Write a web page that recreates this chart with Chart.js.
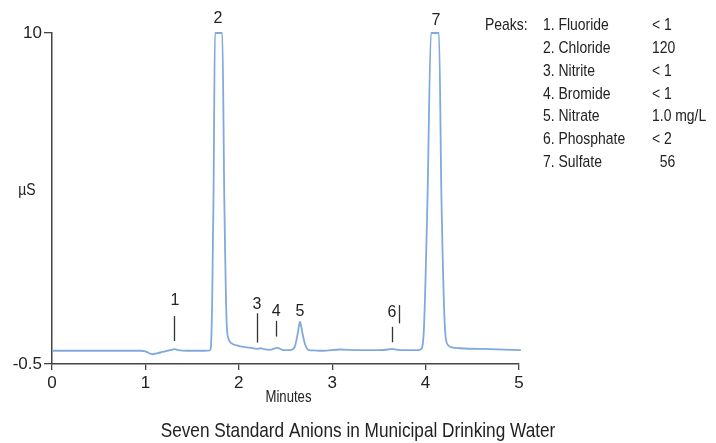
<!DOCTYPE html>
<html lang="en">
<head>
  <meta charset="UTF-8" />
  <title>Seven Standard Anions</title>
  <script src="https://cdn.jsdelivr.net/npm/chart.js"></script>
  <style>
    body {
      background: #fff;
      margin: 0;
    }
    canvas {
      display: block;
    }
  </style>
</head>
<body>
  <canvas id="chrom" width="716" height="443"></canvas>

  <script>
    // Chromatogram trace (minutes, µS)
    const times = [0, 0.5, 0.95, 1.0, 1.05, 1.08, 1.12, 1.2, 1.28, 1.31, 1.35, 1.45, 1.6, 1.69,
      1.70, 1.715, 1.73, 1.745, 1.823, 1.845, 1.87, 1.89, 1.92, 1.98, 2.05, 2.12, 2.19, 2.23,
      2.27, 2.33, 2.41, 2.48, 2.56, 2.6, 2.63, 2.655, 2.68, 2.71, 2.745, 2.8, 2.9, 3.08, 3.3,
      3.5, 3.6, 3.64, 3.7, 3.92, 3.95, 3.98, 4.02, 4.058, 4.143, 4.17, 4.21, 4.24, 4.28, 4.37,
      4.69, 5.02];
    const signal = [-0.08, -0.08, -0.08, -0.1, -0.17, -0.19, -0.16, -0.11, -0.05, -0.03, -0.06, -0.08, -0.08, -0.07,
      0.0, 1.5, 5, 10, 10, 4.7, 0.8, 0.3, 0.16, 0.09, 0.04, 0.02, -0.02, 0.0,
      -0.03, -0.05, 0.01, -0.06, -0.05, 0.05, 0.45, 0.84, 0.5, 0.12, -0.05, -0.07, -0.08, -0.04, -0.06,
      -0.06, -0.04, -0.02, -0.05, -0.06, -0.03, 0.5, 4.7, 10, 10, 4.7, 0.5, 0.1, 0.03, 0.0,
      -0.03, -0.06];

    const xTicks = [0, 1, 2, 3, 4, 5];
    const yTicks = [-0.5, 10];

    // peak numbers above the trace
    const peakNums = ['1', '2', '3', '4', '5', '6', '7'];
    const peakX = [1.317, 1.777, 2.195, 2.40, 2.655, 3.64, 4.11];
    const peakLabelY = [1.5, 10.45, 1.40, 1.16, 1.16, 1.13, 10.38];

    // little vertical marker lines
    const markX = [1.306, 2.19, 2.40, 3.64, 3.715];
    const markTop = [1.02, 1.11, 0.87, 0.68, 1.37];
    const markBottom = [0.23, 0.18, 0.37, 0.19, 0.79];

    // peaks table
    const peakNames = ['1. Fluoride', '2. Chloride', '3. Nitrite', '4. Bromide', '5. Nitrate', '6. Phosphate', '7. Sulfate'];
    const peakAmounts = ['< 1', '120', '< 1', '< 1', '1.0 mg/L', '< 2', '  56'];

    const chartTitle = 'Seven Standard Anions in Municipal Drinking Water';
    const xTitle = 'Minutes';
    const yTitle = 'µS';

    const regular = '"Liberation Sans", Arial, sans-serif';
    const ink = '#222';

    // no narrow face installed, so squeeze the regular one
    function narrowText(ctx, text, x, y, size, align) {
      ctx.save();
      ctx.font = size + 'px ' + regular;
      ctx.textAlign = align || 'left';
      ctx.translate(x, y);
      ctx.scale(0.82, 1);
      ctx.fillText(text, 0, 0);
      ctx.restore();
    }

    const textPlugin = {
      id: 'chromText',
      afterDraw(chart) {
        const { ctx, chartArea } = chart;
        const xs = chart.scales.x, ys = chart.scales.y;
        ctx.save();
        ctx.fillStyle = ink;
        ctx.strokeStyle = '#333';
        ctx.lineWidth = 1.3;
        ctx.textBaseline = 'middle';

        // peak numbers
        ctx.font = '16px ' + regular;
        ctx.textAlign = 'center';
        peakNums.forEach((n, i) => {
          ctx.fillText(n, xs.getPixelForValue(peakX[i]), ys.getPixelForValue(peakLabelY[i]));
        });
        markX.forEach((v, i) => {
          const px = Math.round(xs.getPixelForValue(v)) + 0.5;
          ctx.beginPath();
          ctx.moveTo(px, ys.getPixelForValue(markTop[i]));
          ctx.lineTo(px, ys.getPixelForValue(markBottom[i]));
          ctx.stroke();
        });

        // axis titles and chart title
        const midX = (chartArea.left + chartArea.right) / 2;
        narrowText(ctx, yTitle, chartArea.left - 25, (chartArea.top + chartArea.bottom) / 2 - 8, 17, 'center');
        narrowText(ctx, xTitle, midX + 3, chartArea.bottom + 34, 16, 'center');
        narrowText(ctx, chartTitle, chart.width / 2, chartArea.bottom + 67, 21, 'center');

        // peaks table
        const x0 = chartArea.right - 34;
        narrowText(ctx, 'Peaks:', x0, 25.5, 17);
        peakNames.forEach((name, i) => {
          const y = 25.5 + i * 22.8;
          narrowText(ctx, name, x0 + 58, y, 17);
          narrowText(ctx, peakAmounts[i], x0 + 167, y, 17);
        });
        ctx.restore();
      }
    };

    new Chart(document.getElementById('chrom'), {
      type: 'line',
      data: {
        datasets: [{
          data: times.map((t, i) => ({ x: t, y: signal[i] })),
          borderColor: '#82a9db',
          borderWidth: 1.8,
          pointRadius: 0,
          fill: false,
          cubicInterpolationMode: 'monotone',
          clip: { left: 0, right: 4, top: 4, bottom: 0 }
        }]
      },
      options: {
        responsive: false,
        animation: false,
        layout: {
          padding: { left: 0, right: 197, top: 33, bottom: 0 }
        },
        scales: {
          x: {
            type: 'linear',
            min: 0,
            max: 5,
            afterFit: (scale) => { scale.height = 79; },
            afterBuildTicks: (scale) => { scale.ticks = xTicks.map(v => ({ value: v })); },
            ticks: {
              color: ink,
              font: { family: regular, size: 17 },
              padding: 3
            },
            grid: {
              drawOnChartArea: false,
              color: '#444',
              tickLength: 6,
              lineWidth: 1.3
            },
            border: { color: '#444', width: 1.5 }
          },
          y: {
            min: -0.5,
            max: 10,
            afterFit: (scale) => { scale.width = 52; },
            afterBuildTicks: (scale) => { scale.ticks = yTicks.map(v => ({ value: v })); },
            ticks: {
              color: ink,
              font: { family: regular, size: 17 },
              padding: 2,
              callback: (v) => String(v)
            },
            grid: {
              drawOnChartArea: false,
              color: '#444',
              tickLength: 8,
              lineWidth: 1.3
            },
            border: { color: '#444', width: 1.5 }
          }
        },
        plugins: {
          legend: { display: false },
          tooltip: { enabled: false },
          title: { display: false }
        }
      },
      plugins: [textPlugin]
    });
  </script>
</body>
</html>
